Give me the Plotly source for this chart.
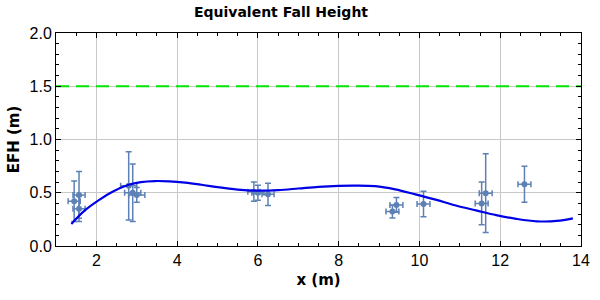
import plotly.graph_objects as go

# measured points
pt_x = [1.45, 1.57, 1.57, 2.80, 2.90, 3.00, 5.90, 6.00, 6.25, 9.33, 9.43, 10.10, 11.54, 11.64, 12.60]
pt_y = [0.42, 0.48, 0.35, 0.565, 0.50, 0.48, 0.51, 0.50, 0.485, 0.323, 0.386, 0.395, 0.40, 0.496, 0.58]
err_y = [0.19, 0.22, 0.12, 0.32, 0.27, 0.07, 0.09, 0.07, 0.105, 0.06, 0.07, 0.12, 0.20, 0.37, 0.17]
err_x = [0.15, 0.15, 0.15, 0.2, 0.2, 0.2, 0.15, 0.15, 0.15, 0.16, 0.16, 0.16, 0.16, 0.16, 0.16]

# fitted curve samples
fit_x = [1.38, 1.7, 2.07, 2.4, 2.8, 3.1, 3.45, 3.8, 4.2, 4.6, 5.0, 5.5, 6.0, 6.5, 7.0, 7.5,
         8.0, 8.4, 8.9, 9.4, 9.9, 10.4, 10.9, 11.4, 11.9, 12.4, 12.9, 13.4, 13.8]
fit_y = [0.207, 0.33, 0.433, 0.51, 0.575, 0.60, 0.61, 0.607, 0.595, 0.575, 0.552, 0.53, 0.52,
         0.525, 0.54, 0.556, 0.565, 0.567, 0.562, 0.532, 0.485, 0.435, 0.38, 0.335, 0.29,
         0.255, 0.232, 0.235, 0.26]

limit_y = 1.5
x_range = [1, 14]
y_range = [0, 2]
x_ticks = [2, 4, 6, 8, 10, 12, 14]
y_ticks = [0, 0.5, 1.0, 1.5, 2.0]

marker_col = "#5E81B5"
tick_font = dict(family="Liberation Sans, Arial", size=16, color="black")
title_font = dict(family="DejaVu Sans", size=14, color="black")
axis_title_font = dict(family="DejaVu Sans", size=15, color="black")

fig = go.Figure()

fig.add_trace(go.Scatter(
    x=x_range, y=[limit_y, limit_y], mode="lines",
    line=dict(color="#00E600", width=2.2, dash="13px,7px"),
    showlegend=False, hoverinfo="skip"))

fig.add_trace(go.Scatter(
    x=pt_x, y=pt_y, mode="markers",
    marker=dict(color=marker_col, size=6),
    error_y=dict(type="data", array=err_y, color=marker_col, thickness=1.5, width=3),
    error_x=dict(type="data", array=err_x, color=marker_col, thickness=1.5, width=3),
    showlegend=False))

fig.add_trace(go.Scatter(
    x=fit_x, y=fit_y, mode="lines", line=dict(color="#0000E6", width=2.2, shape="spline"),
    showlegend=False))

axis_common = dict(showline=True, linecolor="black", linewidth=1, mirror="allticks",
                   ticks="inside", ticklen=5, tickcolor="black", zeroline=False)

fig.update_layout(
    width=600, height=300,
    margin=dict(l=56, r=10, t=33, b=54),
    paper_bgcolor="white", plot_bgcolor="white",
    title=dict(text="<b>Equivalent Fall Height</b>", x=281 / 600, xanchor="center", xref="container",
               y=1 - 12 / 300, yanchor="middle", font=title_font),
    xaxis=dict(range=x_range, tickvals=x_ticks,
               showgrid=True, gridcolor="#C8C8C8", gridwidth=1,
               tickfont=tick_font,
               title=dict(text="<b>x (m)</b>", font=axis_title_font, standoff=6),
               minor=dict(dtick=0.5, tick0=0, ticks="inside", ticklen=3, tickcolor="black", showgrid=False),
               **axis_common),
    yaxis=dict(range=y_range, tickvals=y_ticks, tickformat=".1f",
               showgrid=True, gridcolor="#C8C8C8", gridwidth=1,
               tickfont=tick_font,
               title=dict(text="<b>EFH (m)</b>", font=axis_title_font, standoff=6),
               minor=dict(dtick=0.1, tick0=0, ticks="inside", ticklen=3, tickcolor="black", showgrid=False),
               **axis_common),
)

fig.write_html("out.html", post_script="document.body.style.margin='0';",
               config={"displayModeBar": False})
